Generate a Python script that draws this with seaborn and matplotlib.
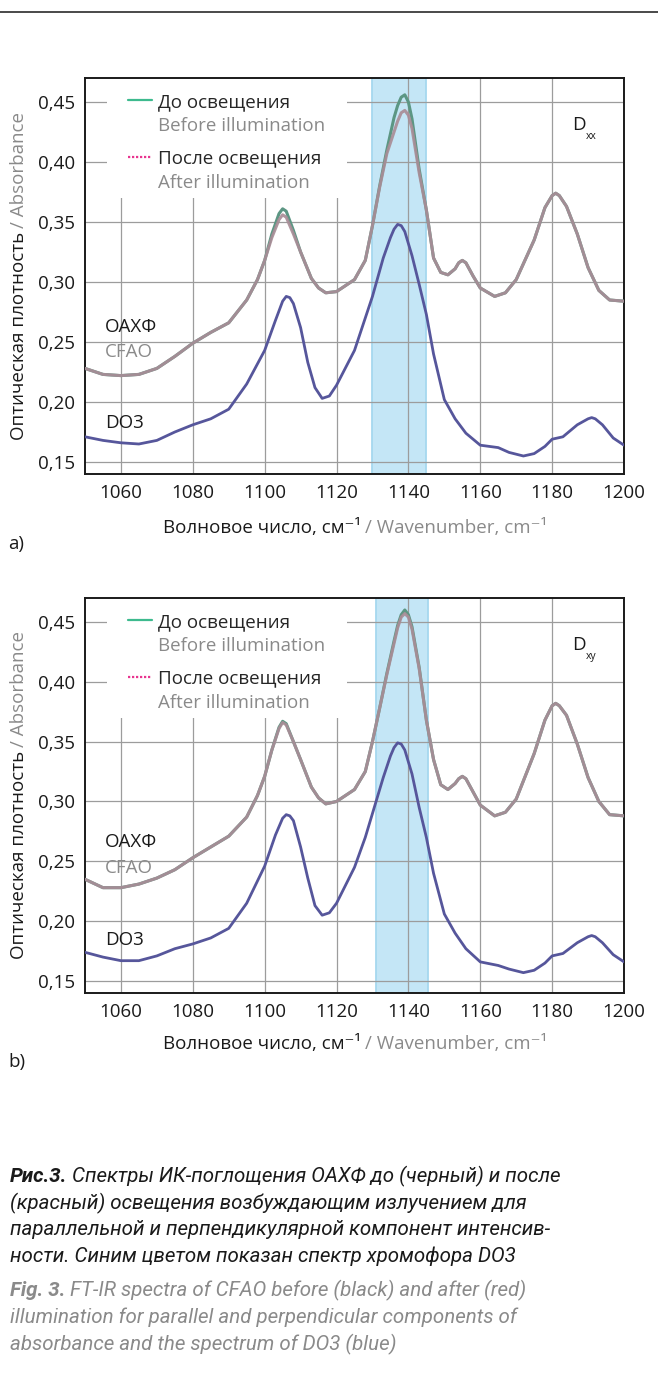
import matplotlib
matplotlib.use("Agg")
import matplotlib.pyplot as plt
import pandas as pd
import seaborn as sns
from matplotlib.lines import Line2D
from matplotlib.patches import Rectangle
from matplotlib.ticker import FixedLocator, FuncFormatter

# ---------------- data ----------------
wn_cfao = [1050, 1055, 1060, 1065, 1070, 1075, 1080, 1085, 1090, 1095,
           1098, 1100, 1102, 1104, 1105, 1106, 1108, 1110, 1113, 1115,
           1117, 1120, 1125, 1128, 1130, 1132, 1134, 1136, 1137, 1138,
           1139, 1140, 1141, 1143, 1145, 1147, 1149, 1151, 1153, 1154,
           1155, 1156, 1158, 1160, 1164, 1167, 1170, 1175, 1178, 1180,
           1181, 1182, 1184, 1187, 1190, 1193, 1196, 1200]

a_before = [.228, .223, .222, .223, .228, .238, .249, .258, .266, .285,
            .302, .318, .340, .357, .361, .359, .343, .325, .303, .295,
            .291, .292, .302, .318, .347, .380, .410, .437, .447, .454,
            .456, .450, .436, .394, .360, .320, .308, .306, .311, .316,
            .318, .316, .305, .295, .288, .291, .302, .335, .362, .372,
            .374, .372, .363, .340, .312, .293, .285, .284]
a_after = [.228, .223, .222, .223, .228, .238, .249, .258, .266, .285,
           .302, .318, .337, .352, .356, .354, .340, .325, .303, .295,
           .291, .292, .302, .318, .347, .379, .407, .425, .434, .441,
           .443, .439, .428, .391, .360, .320, .308, .306, .311, .316,
           .318, .316, .305, .295, .288, .291, .302, .335, .362, .372,
           .374, .372, .363, .340, .312, .293, .285, .284]

b_before = [.235, .228, .228, .231, .236, .243, .253, .262, .271, .287,
            .305, .321, .343, .362, .367, .365, .350, .335, .312, .303,
            .298, .300, .310, .325, .350, .378, .407, .434, .447, .456,
            .460, .456, .446, .412, .368, .335, .314, .310, .315, .319,
            .321, .319, .308, .297, .288, .291, .302, .340, .368, .380,
            .382, .380, .372, .348, .320, .300, .289, .288]
b_after = [.235, .228, .228, .231, .236, .243, .253, .262, .271, .287,
           .305, .321, .343, .361, .366, .364, .350, .335, .312, .303,
           .298, .300, .310, .325, .350, .378, .406, .432, .445, .454,
           .457, .454, .444, .411, .368, .335, .314, .310, .315, .319,
           .321, .319, .308, .297, .288, .291, .302, .340, .368, .380,
           .382, .380, .372, .348, .320, .300, .289, .288]

wn_do3 = [1050, 1055, 1060, 1065, 1070, 1075, 1080, 1085, 1090, 1095,
          1100, 1103, 1105, 1106, 1107, 1108, 1110, 1112, 1114, 1116,
          1118, 1120, 1125, 1128, 1130, 1133, 1135, 1136, 1137, 1138,
          1139, 1141, 1143, 1145, 1147, 1150, 1153, 1156, 1160, 1165,
          1168, 1172, 1175, 1178, 1180, 1183, 1187, 1190, 1191, 1192,
          1194, 1197, 1200]
a_do3 = [.171, .168, .166, .165, .168, .175, .181, .186, .194, .215,
         .243, .268, .284, .288, .287, .282, .262, .233, .212, .203,
         .205, .214, .243, .270, .288, .320, .337, .344, .348, .347,
         .342, .322, .298, .273, .240, .202, .186, .174, .164, .162,
         .158, .155, .157, .163, .169, .171, .181, .186, .187, .186,
         .181, .170, .164]
b_do3 = [.174, .170, .167, .167, .171, .177, .181, .186, .194, .215,
         .246, .272, .286, .289, .288, .284, .262, .236, .213, .205,
         .207, .215, .245, .270, .290, .320, .338, .345, .349, .348,
         .343, .323, .295, .270, .240, .206, .190, .177, .166, .163,
         .160, .157, .159, .165, .171, .173, .182, .187, .188, .187,
         .182, .172, .166]

band_a = [1130, 1145]
band_b = [1131, 1145.5]

x_ticks = [1060, 1080, 1100, 1120, 1140, 1160, 1180, 1200]
y_ticks = [0.15, 0.20, 0.25, 0.30, 0.35, 0.40, 0.45]

legend_ru = ["До освещения", "После освещения"]
legend_en = ["Before illumination", "After illumination"]

caption_lines = [
    [("Рис.3.", "k", "bold"), ("Спектры ИК-поглощения ОАХФ до (черный) и после", "k", "normal")],
    [("(красный) освещения возбуждающим излучением для", "k", "normal")],
    [("параллельной и перпендикулярной компонент интенсив-", "k", "normal")],
    [("ности. Синим цветом показан спектр хромофора DO3", "k", "normal")],
    [("Fig. 3.", "g", "bold"), ("FT-IR spectra of CFAO before (black) and after (red)", "g", "normal")],
    [("illumination for parallel and perpendicular components of", "g", "normal")],
    [("absorbance and the spectrum of DO3 (blue)", "g", "normal")],
]

# ---------------- style ----------------
sns.set_theme(style="white")
plt.rcParams["font.family"] = ["Open Sans", "DejaVu Sans"]
plt.rcParams["axes.unicode_minus"] = False

FS = 13.5
GRAY = "#8a8a8a"
BLACK = "#1a1a1a"
W, H = 658, 1374


def fx(px):
    return px / W


def fy(py):
    return 1 - py / H


fig = plt.figure(figsize=(W / 100, H / 100), dpi=100)
fig.patch.set_facecolor("white")
renderer = fig.canvas.get_renderer()


def ax_rect(l, t, r, b):
    return [l / W, 1 - b / H, (r - l) / W, (b - t) / H]


def hrow(parts, x, y, ha="left", size=FS, family=None, style="normal"):
    """parts: list of (text, color, weight, gap_after_px); y = baseline px from top"""
    arts = []
    cur = x
    for s, color, weight, gap in parts:
        kw = dict(fontsize=size, color=color, fontweight=weight, fontstyle=style)
        if family:
            kw["family"] = family
        t = fig.text(fx(cur), fy(y), s, ha="left", va="baseline", **kw)
        cur += t.get_window_extent(renderer).width + gap
        arts.append(t)
    if ha == "center":
        total = cur - x
        for t in arts:
            t.set_x(t.get_position()[0] - total / 2 / W)
    return arts


def vrow(parts, x, yc, size=FS):
    arts, gaps = [], []
    for s, color, gap in parts:
        t = fig.text(fx(x), 0, s, rotation=90, ha="center", va="bottom",
                     fontsize=size, color=color)
        arts.append(t)
        gaps.append(gap)
    hs = [t.get_window_extent(renderer).height for t in arts]
    total = sum(hs) + sum(gaps[:-1])
    ycur = (H - yc) - total / 2
    for t, h, g in zip(arts, hs, gaps):
        t.set_y(ycur / H)
        ycur += h + g


def panel(ax, before, after, do3, band, sub, txt_y):
    ax.set_facecolor("white")
    ax.axvspan(band[0], band[1], facecolor="#c4e6f6", edgecolor="#a6d8ef",
               lw=1.3, zorder=0.2)
    dfc = pd.DataFrame({"wn": wn_cfao, "before": before, "after": after})
    dfd = pd.DataFrame({"wn": wn_do3, "do3": do3})
    sns.lineplot(data=dfc, x="wn", y="before", ax=ax, color="#5c9683", lw=2.2,
                 estimator=None, sort=False, zorder=3)
    sns.lineplot(data=dfc, x="wn", y="after", ax=ax, color="#a98d97", lw=2.2,
                 alpha=0.92, estimator=None, sort=False, zorder=3.1)
    sns.lineplot(data=dfd, x="wn", y="do3", ax=ax, color="#56569b", lw=2.0,
                 estimator=None, sort=False, zorder=3)
    ax.set_xlim(1050, 1200)
    ax.set_ylim(0.14, 0.47)
    ax.xaxis.set_major_locator(FixedLocator(x_ticks))
    ax.yaxis.set_major_locator(FixedLocator(y_ticks))
    ax.yaxis.set_major_formatter(FuncFormatter(lambda v, p: f"{v:.2f}".replace(".", ",")))
    ax.xaxis.set_major_formatter(FuncFormatter(lambda v, p: f"{int(round(v))}"))
    ax.grid(True, color="#9c9c9c", lw=0.9)
    ax.set_axisbelow(True)
    ax.tick_params(direction="in", length=6, width=1.0, color="#555555",
                   labelsize=FS, pad=7, labelcolor=BLACK)
    for s in ax.spines.values():
        s.set_visible(True)
        s.set_color(BLACK)
        s.set_linewidth(1.4)
    ax.set_xlabel("")
    ax.set_ylabel("")

    # white legend area
    ax.add_patch(Rectangle((0.041, 0.697), 0.445, 0.303, transform=ax.transAxes,
                           facecolor="white", edgecolor="none", zorder=1))
    handles = [Line2D([], [], color="#3dba8e", lw=1.6),
               Line2D([], [], color="#e8348f", lw=1.6, ls=(0, (1, 0.8)))]
    leg = ax.legend(handles, legend_ru, loc="upper left", bbox_to_anchor=(0.0798, 0.962),
                    frameon=False, fontsize=FS, handlelength=1.28, handletextpad=0.32,
                    labelspacing=2.06, borderpad=0, borderaxespad=0)
    leg.set_zorder(5)

    # D subscript annotation
    ax.text(0.9035, 0.881, "D", transform=ax.transAxes, fontsize=FS, color=BLACK,
            ha="left", va="center")
    ax.text(0.930, 0.853, sub, transform=ax.transAxes, fontsize=7.5, color=BLACK,
            ha="left", va="center")
    # curve labels
    ax.text(1055.6, txt_y[0], "ОАХФ", fontsize=FS, color=BLACK, va="center", ha="left", zorder=6)
    ax.text(1055.6, txt_y[1], "CFAO", fontsize=FS, color=GRAY, va="center", ha="left", zorder=6)
    ax.text(1055.6, txt_y[2], "DO3", fontsize=FS, color=BLACK, va="center", ha="left", zorder=6)
    return leg


ax_a = fig.add_axes(ax_rect(85, 78, 624, 474))
ax_b = fig.add_axes(ax_rect(85, 598, 624, 993))
leg_a = panel(ax_a, a_before, a_after, a_do3, band_a, "xx", (0.2625, 0.2417, 0.1825))
leg_b = panel(ax_b, b_before, b_after, b_do3, band_b, "xy", (0.266, 0.2442, 0.1842))

# top rule
fig.add_artist(Line2D([0, 1], [fy(12), fy(12)], transform=fig.transFigure,
                      color="#2a2a2a", lw=1.2))

# y labels
for yc in (276, 795):
    vrow([("Оптическая плотность", BLACK, 4), ("/ Absorbance", GRAY, 0)], 19, yc)

# x labels
for yb in (533, 1049):
    hrow([("Волновое число, см⁻¹", BLACK, "normal", 4),
          ("/ Wavenumber, cm⁻¹", GRAY, "normal", 0)], 355, yb, ha="center")

fig.text(fx(8), fy(549), "a)", fontsize=FS, color=BLACK, ha="left", va="baseline")
fig.text(fx(8), fy(1067), "b)", fontsize=FS, color=BLACK, ha="left", va="baseline")

# caption
cap_base = [1182, 1209, 1235, 1262, 1296, 1323, 1350]
for line, yb in zip(caption_lines, cap_base):
    parts = []
    for i, (s, c, w) in enumerate(line):
        parts.append((s, BLACK if c == "k" else GRAY, w, 5 if i < len(line) - 1 else 0))
    hrow(parts, 10, yb, size=14.8, family=["Roboto", "DejaVu Sans"], style="italic")

# English legend lines under Russian ones
fig.canvas.draw()
for ax, leg in ((ax_a, leg_a), (ax_b, leg_b)):
    for t, en in zip(leg.get_texts(), legend_en):
        bb = t.get_window_extent(renderer)
        xd, yd = bb.x0, (bb.y0 + bb.y1) / 2 - 24
        xa, ya = ax.transAxes.inverted().transform((xd, yd))
        ax.text(xa, ya, en, transform=ax.transAxes, fontsize=FS, color=GRAY,
                ha="left", va="center", zorder=6)

fig.savefig("out.png", dpi=100, facecolor="white")
